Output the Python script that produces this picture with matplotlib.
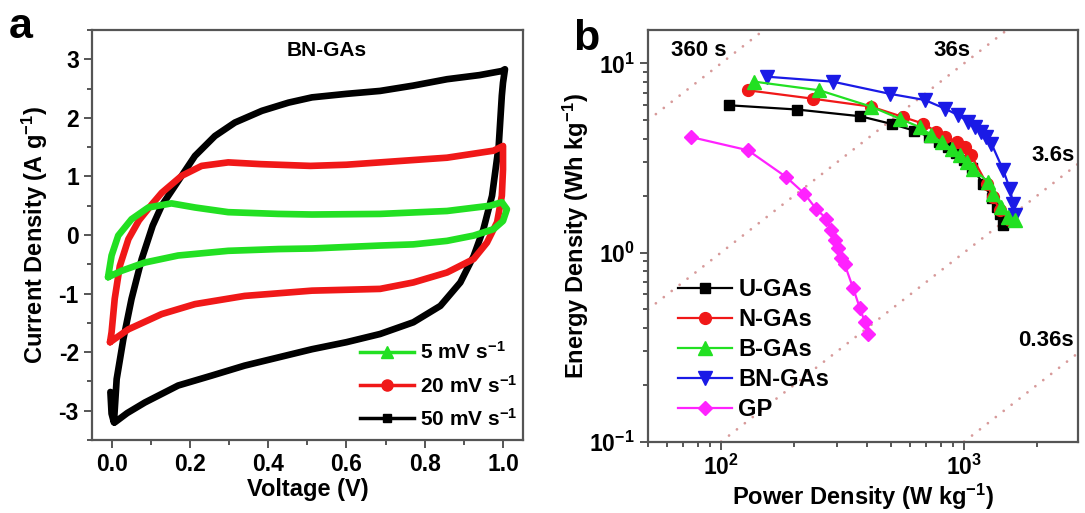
import matplotlib
matplotlib.use('Agg')
import matplotlib.pyplot as plt
from matplotlib.lines import Line2D
from matplotlib.ticker import MultipleLocator, LogLocator, NullFormatter

plt.rcParams['font.family'] = ['Liberation Sans', 'DejaVu Sans']
plt.rcParams['font.weight'] = 'bold'
plt.rcParams['axes.labelweight'] = 'bold'
plt.rcParams['axes.unicode_minus'] = False
plt.rcParams['mathtext.fontset'] = 'custom'
plt.rcParams['mathtext.rm'] = 'Liberation Sans:bold'
plt.rcParams['mathtext.it'] = 'Liberation Sans:bold'
plt.rcParams['mathtext.bf'] = 'Liberation Sans:bold'

# ---- panel a: CV curves of BN-GAs (voltage V, current density A/g), closed loops
v_5 = [-0.009, 0.0, 0.017, 0.051, 0.094, 0.153, 0.213, 0.298, 0.426, 0.512, 0.686, 0.857, 0.967, 0.997, 1.01,
       1.0, 0.976, 0.925, 0.857, 0.771, 0.686, 0.512, 0.426, 0.298, 0.17, 0.085, 0.026, -0.009]
i_5 = [-0.72, -0.35, -0.01, 0.27, 0.47, 0.54, 0.47, 0.39, 0.36, 0.35, 0.36, 0.41, 0.50, 0.56, 0.44,
       0.24, 0.10, -0.01, -0.10, -0.16, -0.18, -0.23, -0.24, -0.27, -0.35, -0.47, -0.61, -0.72]

v_20 = [-0.004, 0.0, 0.008, 0.021, 0.043, 0.07, 0.1, 0.128, 0.179, 0.23, 0.298, 0.381, 0.508, 0.6, 0.686, 0.771, 0.857, 0.976, 1.0,
        1.0, 0.997, 0.985, 0.959, 0.925, 0.857, 0.771, 0.686, 0.6, 0.512, 0.34, 0.213, 0.128, 0.043, -0.004]
i_20 = [-1.83, -1.66, -1.09, -0.53, -0.07, 0.25, 0.5, 0.72, 1.01, 1.18, 1.24, 1.21, 1.18, 1.2, 1.24, 1.28, 1.32, 1.44, 1.52,
        1.12, 0.67, 0.22, -0.13, -0.41, -0.64, -0.81, -0.92, -0.935, -0.95, -1.04, -1.18, -1.35, -1.61, -1.83]

v_50 = [-0.003, 0.0, 0.006, 0.013, 0.03, 0.051, 0.077, 0.105, 0.128, 0.162, 0.213, 0.264, 0.315, 0.384, 0.452, 0.512, 0.6, 0.686,
        0.77, 0.857, 0.94, 0.997, 1.005,
        1.0, 0.997, 0.989, 0.972, 0.95, 0.925, 0.891, 0.84, 0.771, 0.686, 0.6, 0.512, 0.426, 0.34, 0.256, 0.17, 0.085, 0.04, 0.008]
i_50 = [-2.68, -3.05, -3.2, -2.46, -1.78, -1.09, -0.41, 0.16, 0.5, 0.84, 1.35, 1.69, 1.92, 2.12, 2.26, 2.35, 2.41, 2.46,
        2.55, 2.66, 2.73, 2.8, 2.83,
        2.6, 2.38, 1.52, 0.67, 0.10, -0.36, -0.81, -1.21, -1.49, -1.69, -1.83, -1.95, -2.09, -2.23, -2.40, -2.57, -2.86, -3.04, -3.2]

# ---- panel b: Ragone plot (W/kg, Wh/kg)
p_u = [108, 205, 374, 507, 622, 716, 790, 860, 930, 1000, 1080, 1200, 1300, 1360, 1400, 1450]
e_u = [6.0, 5.7, 5.25, 4.77, 4.41, 4.1, 3.85, 3.6, 3.35, 3.1, 2.8, 2.3, 1.95, 1.75, 1.6, 1.4]
p_n = [129, 239, 415, 561, 678, 769, 838, 931, 1007, 1069, 1238, 1316, 1399, 1542]
e_n = [7.2, 6.5, 5.9, 5.2, 4.8, 4.35, 4.08, 3.84, 3.62, 3.27, 2.31, 1.96, 1.68, 1.48]
p_b = [137, 254, 415, 543, 656, 733, 808, 888, 963, 1025, 1090, 1254, 1316, 1424, 1516, 1617]
e_b = [8.0, 7.2, 5.9, 5.1, 4.6, 4.17, 3.84, 3.54, 3.27, 3.02, 2.78, 2.36, 2.04, 1.75, 1.54, 1.48]
p_bn = [154, 288, 494, 689, 832, 944, 1041, 1107, 1178, 1236, 1296, 1449, 1543, 1592, 1617]
e_bn = [8.5, 8.0, 6.9, 6.4, 5.77, 5.32, 4.91, 4.62, 4.34, 4.08, 3.76, 2.72, 2.17, 1.81, 1.57]
p_gp = [75, 129, 185, 220, 246, 271, 284, 293, 303, 312, 322, 349, 372, 390, 402]
e_gp = [4.08, 3.47, 2.51, 2.05, 1.70, 1.51, 1.31, 1.16, 1.05, 0.94, 0.87, 0.65, 0.51, 0.43, 0.37]

times = [360, 36, 3.6, 0.36]
time_labels = ['360 s', '36s', '3.6s', '0.36s']

green = '#22e022'
red = '#f01818'
blue = '#1a1ae6'
magenta = '#ff22ff'
spine_col = '#555555'

fig = plt.figure(figsize=(10.85, 5.13), dpi=100)
ax1 = fig.add_axes([0.0848, 0.1423, 0.3972, 0.7992])
ax2 = fig.add_axes([0.5972, 0.139, 0.3963, 0.8025])

# panel a
for v, i, c in [(v_50, i_50, 'black'), (v_20, i_20, red), (v_5, i_5, green)]:
    ax1.plot(v, i, color=c, lw=4.8, solid_joinstyle='round', solid_capstyle='round')
ax1.set_xlim(-0.05, 1.051)
ax1.set_ylim(-3.5, 3.5)
ax1.xaxis.set_major_locator(MultipleLocator(0.2))
ax1.xaxis.set_minor_locator(MultipleLocator(0.1))
ax1.yaxis.set_major_locator(MultipleLocator(1))
ax1.yaxis.set_minor_locator(MultipleLocator(0.5))
ax1.xaxis.set_major_formatter(plt.FuncFormatter(lambda x, p: f'{x:.1f}'))
ax1.set_xlabel('Voltage (V)', fontsize=17, labelpad=1)
ax1.set_ylabel('Current Density (A g$^{-1}$)', fontsize=17, labelpad=6)
ax1.text(0.545, 0.951, 'BN-GAs', transform=ax1.transAxes, ha='center', va='center', fontsize=15)
handles_a = [
    Line2D([], [], color=green, lw=2.5, marker='^', ms=8, label='5 mV s$^{-1}$'),
    Line2D([], [], color=red, lw=2.5, marker='o', ms=8, label='20 mV s$^{-1}$'),
    Line2D([], [], color='black', lw=2.5, marker='s', ms=6, label='50 mV s$^{-1}$'),
]
ax1.legend(handles=handles_a, loc='lower right', frameon=False, fontsize=15,
           handlelength=2.6, handletextpad=0.25, labelspacing=0.55, borderpad=0,
           borderaxespad=0, bbox_to_anchor=(0.986, 0.025))

# panel b
for t in times:
    ax2.axline((100, 100 * t / 3600), (1000, 1000 * t / 3600), color='#d79a9a',
               lw=2.0, linestyle=(0, (0.01, 3.6)), dash_capstyle='round', zorder=1)
ax2.plot(p_u, e_u, color='black', marker='s', ms=7.5, lw=1.6, label='U-GAs', zorder=3)
ax2.plot(p_n, e_n, color=red, marker='o', ms=8.5, lw=1.6, label='N-GAs', zorder=3)
ax2.plot(p_b, e_b, color=green, marker='^', ms=9.5, lw=1.6, label='B-GAs', zorder=4)
ax2.plot(p_bn, e_bn, color=blue, marker='v', ms=9.5, lw=1.6, label='BN-GAs', zorder=3)
ax2.plot(p_gp, e_gp, color=magenta, marker='D', ms=7.5, lw=1.6, label='GP', zorder=3)
ax2.set_xscale('log')
ax2.set_yscale('log')
ax2.set_xlim(50, 2940)
ax2.set_ylim(0.1, 15)
ax2.xaxis.set_major_locator(LogLocator(base=10))
ax2.yaxis.set_major_locator(LogLocator(base=10))
ax2.xaxis.set_minor_locator(LogLocator(base=10, subs=range(2, 10)))
ax2.yaxis.set_minor_locator(LogLocator(base=10, subs=range(2, 10)))
ax2.xaxis.set_minor_formatter(NullFormatter())
ax2.yaxis.set_minor_formatter(NullFormatter())
ax2.set_xlabel('Power Density (W kg$^{-1}$)', fontsize=17, labelpad=1)
ax2.set_ylabel('Energy Density (Wh kg$^{-1}$)', fontsize=17, labelpad=-1)
pos = [(0.119, 0.951), (0.706, 0.951), (0.942, 0.696), (0.925, 0.247)]
for lab, (x, y) in zip(time_labels, pos):
    ax2.text(x, y, lab, transform=ax2.transAxes, ha='center', va='center', fontsize=16)
ax2.legend(loc='upper left', frameon=False, fontsize=17, handlelength=2.3,
           handletextpad=0.25, labelspacing=0.3, borderpad=0, borderaxespad=0,
           bbox_to_anchor=(0.07, 0.398))

for ax in (ax1, ax2):
    for s in ax.spines.values():
        s.set_color(spine_col)
        s.set_linewidth(1.6)
    ax.tick_params(which='both', direction='out', top=False, right=False,
                   color=spine_col, labelsize=16.5, width=1.4)
    ax.tick_params(which='major', length=6)
    ax.tick_params(which='minor', length=3.5)

fig.text(0.008, 0.926, 'a', fontsize=31, fontweight='bold', va='baseline', ha='left')
fig.text(0.528, 0.9025, 'b', fontsize=31, fontweight='bold', va='baseline', ha='left')

fig.savefig('out.png', dpi=100)
